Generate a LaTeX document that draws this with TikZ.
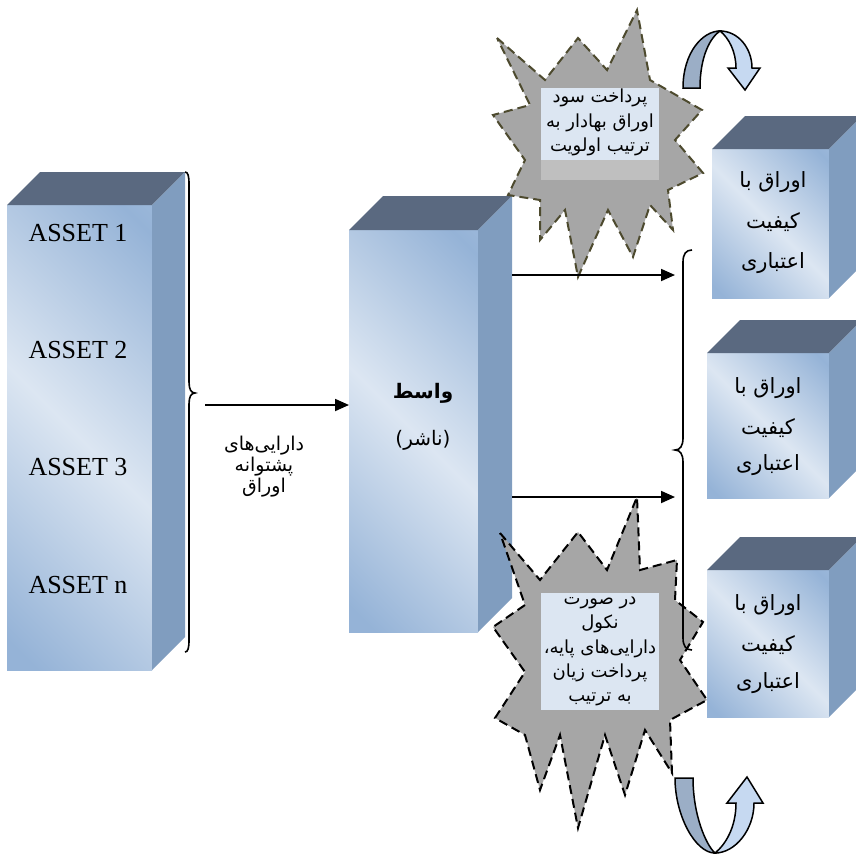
\documentclass[tikz,border=0pt]{standalone}
\usepackage{fontspec}
\setmainfont{Liberation Serif}
\newfontfamily\fa[Script=Arabic]{DejaVu Sans}
\TeXXeTstate=1
\usetikzlibrary{arrows.meta}
\definecolor{cbL}{HTML}{DCE6F2}
\definecolor{cbB}{HTML}{95B3D7}
\definecolor{cbM}{HTML}{AFC6E2}
\definecolor{cbT}{HTML}{5A6980}
\definecolor{cbS}{HTML}{809DBF}
\definecolor{burst}{HTML}{A6A6A6}
\definecolor{burstedge}{HTML}{4D4A2E}
\definecolor{boxL}{HTML}{DCE6F2}
\definecolor{boxG}{HTML}{BFBFBF}
\definecolor{uDark}{HTML}{9BAEC6}
\definecolor{uLight}{HTML}{C6D9F1}
\pgfdeclarehorizontalshading{cubefront}{100bp}{color(0bp)=(cbB); color(18bp)=(cbB); color(50bp)=(cbL); color(82bp)=(cbB); color(100bp)=(cbM)}
\newcommand\mycube[6]{%
  \node[front, minimum width=#4pt, minimum height=#5pt] (#1) at (#2,#3) {};
  \fill[cbT] (#1.north west) -- ++(#6,-#6) -- ([xshift=#6pt,yshift=#6pt]#1.north east) -- (#1.north east) -- cycle;
  \fill[cbS] (#1.north east) -- ++(#6,-#6) -- ([xshift=#6pt,yshift=#6pt]#1.south east) -- (#1.south east) -- cycle;
}
\begin{document}
\begin{tikzpicture}[x=1pt,y=-1pt,
  front/.style={inner sep=0pt, outer sep=0pt, shade, shading=cubefront, shading angle=45},
  asset/.style={font=\fontsize{26}{30}\selectfont},
  fatxt/.style={font=\fa\fontsize{21}{24}\selectfont, inner sep=0pt},
  burstline/.style={fill=burst, dashed, dash pattern=on 9pt off 5pt, line width=2pt, line join=miter},
  arr/.style={-{Triangle[length=14pt,width=12pt]}, line width=1.8pt},
  brace/.style={line width=1.6pt},
  uturn/.style={draw=black, line width=1.5pt, line join=miter}
]
\clip (0,0) rectangle (856,854);

% ---- cubes ----
\mycube{assets}{79.5}{437.5}{145}{465}{33}
\mycube{mid}{413.5}{431}{129}{402}{34}
\mycube{q1}{770.5}{223.5}{117}{149}{33}
\mycube{q2}{768}{425.5}{122}{145}{33}
\mycube{q3}{768}{643.5}{122}{147}{33}

% ---- asset texts ----
\node[asset] (as1) at (78,233) {ASSET 1};
\node[asset] (as2) at (78,350) {ASSET 2};
\node[asset] (as3) at (78,467) {ASSET 3};
\node[asset] (asn) at (78,585) {ASSET n};

% ---- middle texts ----
\node[font=\fa\bfseries\fontsize{20}{24}\selectfont] (mid1) at (423,393) {\beginR واسط\endR};
\node[font=\fa\fontsize{20}{24}\selectfont] (mid2) at (423,440) {\beginR (ناشر)\endR};

% ---- right cube texts ----
\foreach \q/\x/\a/\b/\c in {q1/773/182/222/263, q2/768/388/428/465, q3/768/605/645/683}{
  \node[fatxt] (\q a) at (\x,\a) {\beginR اوراق با\endR};
  \node[fatxt] (\q b) at (\x,\b) {\beginR کیفیت\endR};
  \node[fatxt] (\q c) at (\x,\c) {\beginR اعتباری\endR};
}

% ---- left brace ----
\draw[brace] (185,172) .. controls (188,172) and (189,176) .. (189,184) -- (189,382)
  .. controls (189,389) and (191,393) .. (195,393)
  .. controls (191,393) and (189,397) .. (189,404) -- (189,640)
  .. controls (189,648) and (188,652) .. (185,652);

% ---- arrow 1 + label ----
\coordinate (a1s) at (205,405);
\draw[arr] (a1s) -- (a1s -| mid.west);
\node[font=\fa\fontsize{19}{21}\selectfont, align=center] (lbl) at (264,467)
  {\beginR دارایی‌های\endR\\\beginR پشتوانه\endR\\\beginR اوراق\endR};

% ---- top starburst ----
\draw[burstline, draw=burstedge] (497,38) -- (545,80) -- (578,38) -- (607,70) -- (637,10) -- (650,80)
  -- (702,110) -- (675,140) -- (703,173) -- (668,190) -- (673,230) -- (650,205) -- (633,257)
  -- (608,210) -- (578,277) -- (565,210) -- (540,240) -- (540,200) -- (508,195) -- (525,160)
  -- (493,115) -- (530,105) -- cycle;
\fill[boxG] (541,160) rectangle (659,180);
\node[fill=boxL, minimum width=118pt, minimum height=72pt, inner sep=0pt] (tbox) at (600,124) {};
\node[font=\fa\fontsize{18}{24.5}\selectfont, align=center] (ttxt) at (600,122.5)
  {\beginR پرداخت سود\endR\\\beginR اوراق بهادار به\endR\\\beginR ترتیب اولویت\endR};

% ---- upper / lower arrows ----
\coordinate (u1s) at (512,275);
\coordinate (u1e) at (675,275);
\draw[arr] (u1s) -- (u1e);
\coordinate (l1s) at (512,497);
\coordinate (l1e) at (675,497);
\draw[arr] (l1s) -- (l1e);

% ---- bottom starburst ----
\draw[burstline, draw=black] (500,533) -- (540,580) -- (578,532) -- (607,570) -- (637,497) -- (640,570)
  -- (677,560) -- (675,600) -- (703,622) -- (680,660) -- (707,700) -- (670,720) -- (672,773)
  -- (645,730) -- (625,795) -- (605,735) -- (578,828) -- (560,735) -- (540,790) -- (525,735)
  -- (495,718) -- (525,672) -- (493,627) -- (525,605) -- cycle;
\node[fill=boxL, minimum width=118pt, minimum height=117pt, inner sep=0pt] (bbox) at (600,651.5) {};
\node[font=\fa\fontsize{18}{24.3}\selectfont, align=center] (btxt) at (600,651.5)
  {\beginR در صورت\endR\\\beginR نکول\endR\\\beginR دارایی‌های پایه،\endR\\\beginR پرداخت زیان\endR\\\beginR به ترتیب\endR};

% ---- right brace ----
\draw[brace] (692,250) .. controls (686,250) and (683,254) .. (683,262) -- (683,438)
  .. controls (683,446) and (680,450) .. (675,450)
  .. controls (680,450) and (683,454) .. (683,462) -- (683,638)
  .. controls (683,646) and (686,650) .. (692,650);

% ---- top u-turn arrow ----
\draw[uturn, fill=uDark] (683,88) .. controls (683,52) and (703,31) .. (720,31)
  .. controls (711,37) and (700,55) .. (700,88) -- cycle;
\draw[uturn, fill=uLight] (720,31) .. controls (738,31) and (752,48) .. (752,68)
  -- (760,68) -- (745,90) -- (728,68) -- (736,68) .. controls (736,52) and (729,38) .. (720,31) -- cycle;

% ---- bottom u-turn arrow ----
\draw[uturn, fill=uDark] (675,778) .. controls (675,815) and (695,853) .. (715,853)
  .. controls (706,845) and (693,815) .. (693,778) -- cycle;
\draw[uturn, fill=uLight] (715,853) .. controls (735,853) and (754,830) .. (754,803)
  -- (763,803) -- (747,777) -- (727,803) -- (736,803) .. controls (736,828) and (725,845) .. (715,853) -- cycle;
\end{tikzpicture}
\end{document}
